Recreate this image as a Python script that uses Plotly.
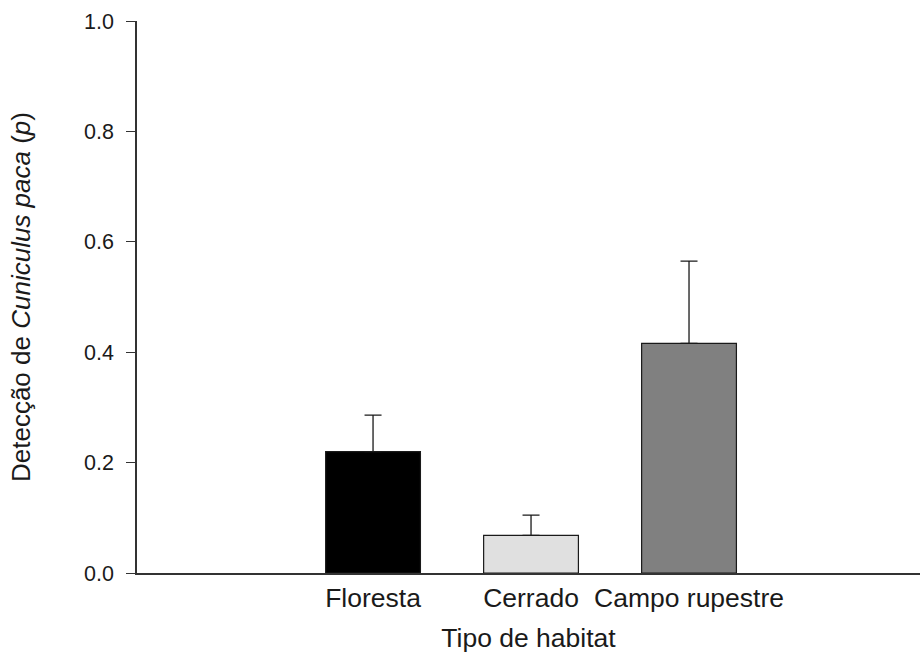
import plotly.graph_objects as go

# Detection probability of Cuniculus paca per habitat type
habitats = ["Floresta", "Cerrado", "Campo rupestre"]
detection = [0.22, 0.068, 0.416]
detection_se = [0.066, 0.037, 0.149]
bar_colors = ["#000000", "#e0e0e0", "#808080"]

y_ticks = [0.0, 0.2, 0.4, 0.6, 0.8, 1.0]
y_ticktext = ["0.0", "0.2", "0.4", "0.6", "0.8", "1.0"]

positions = list(range(len(habitats)))

FONT = "Liberation Sans, Arial, sans-serif"

fig = go.Figure()
fig.add_trace(go.Bar(
    x=positions,
    y=detection,
    width=0.6,
    marker=dict(color=bar_colors, line=dict(color="#1a1a1a", width=1.2)),
    error_y=dict(
        type="data",
        array=detection_se,
        arrayminus=[0] * len(detection_se),
        symmetric=False,
        color="#1a1a1a",
        thickness=1.3,
        width=8.5,
    ),
    showlegend=False,
))

fig.update_layout(
    width=920,
    height=657,
    margin=dict(l=137, r=0, t=21, b=84),
    paper_bgcolor="white",
    plot_bgcolor="white",
    font=dict(family=FONT, color="#1a1a1a"),
    xaxis=dict(
        range=[-1.494, 3.462],
        tickmode="array",
        tickvals=positions,
        ticktext=habitats,
        ticks="",
        showgrid=False,
        zeroline=False,
        showline=True,
        linecolor="#333333",
        linewidth=1.5,
        tickfont=dict(size=26.5, family=FONT, color="#1a1a1a"),
        ticklabelstandoff=0,
        title=dict(text="Tipo de habitat", font=dict(size=26.5, family=FONT, color="#1a1a1a"), standoff=17),
    ),
    yaxis=dict(
        range=[0, 1.0],
        tickmode="array",
        tickvals=y_ticks,
        ticktext=y_ticktext,
        ticks="outside",
        ticklen=9,
        tickwidth=1.3,
        tickcolor="#333333",
        showgrid=False,
        zeroline=False,
        showline=True,
        linecolor="#333333",
        linewidth=1.5,
        tickfont=dict(size=21.5, family=FONT, color="#1a1a1a"),
        ticklabelstandoff=8,
        title=dict(
            text="Detecção de <i>Cuniculus paca</i> (<i>p</i>)",
            font=dict(size=26, family=FONT, color="#1a1a1a"),
            standoff=46,
        ),
    ),
)

fig.write_html("out.html")
